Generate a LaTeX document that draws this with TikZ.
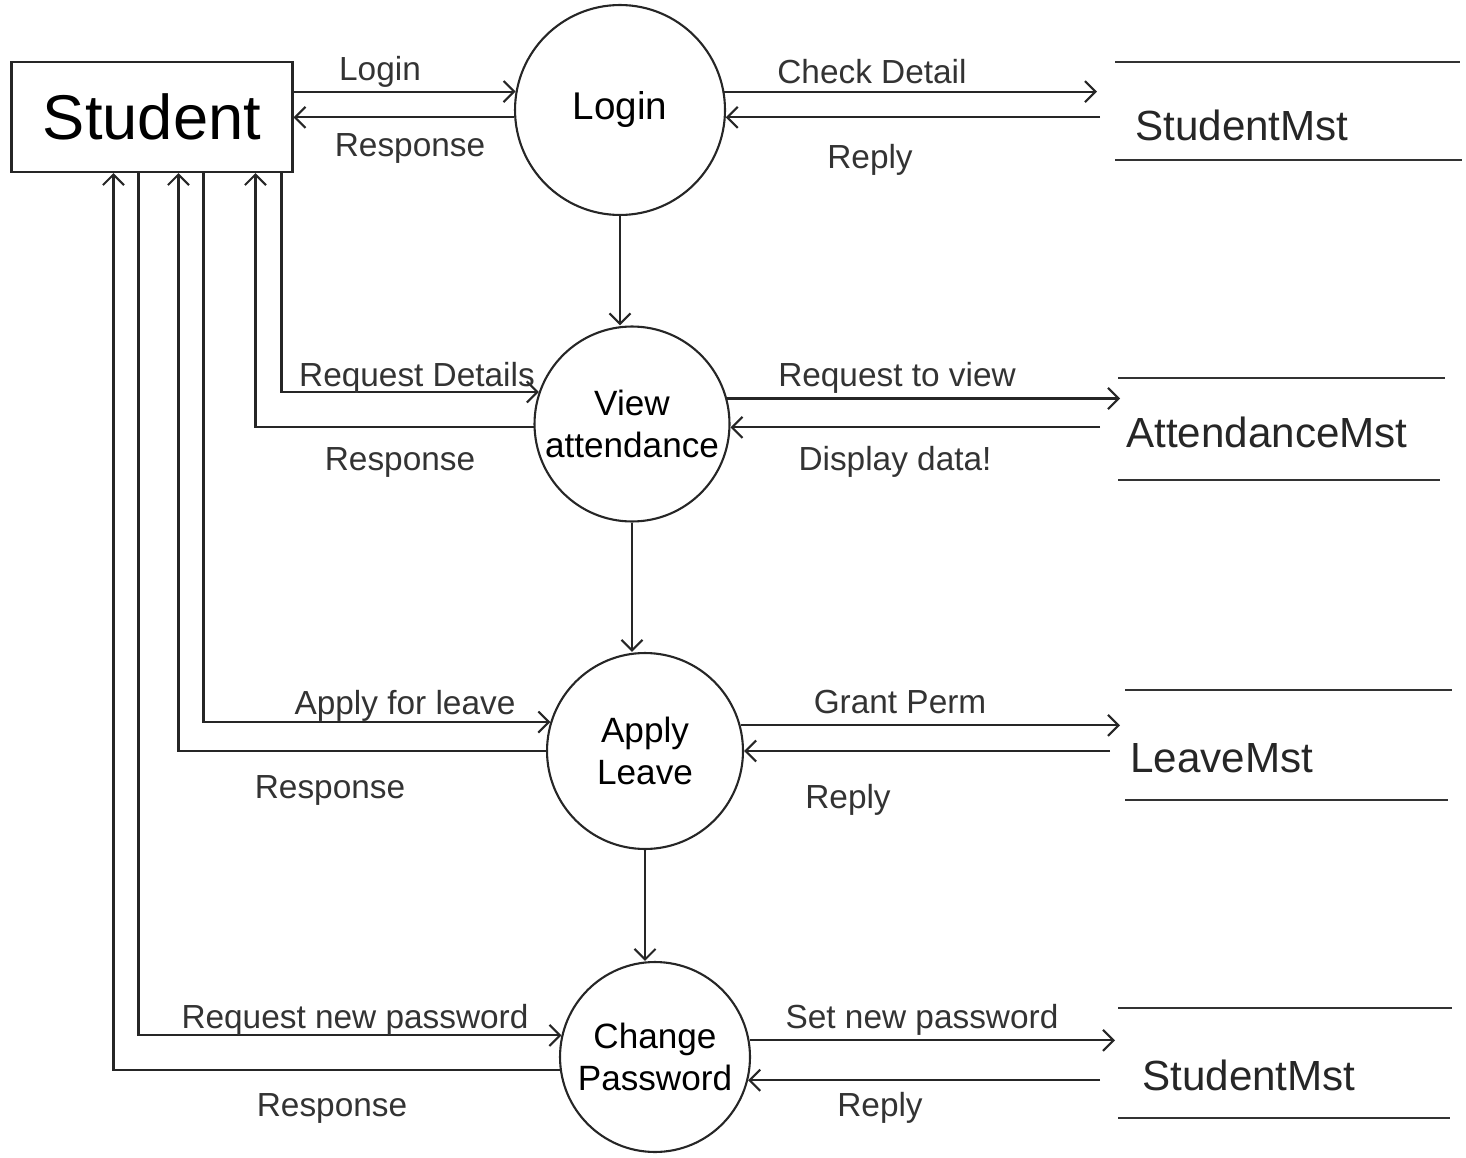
\documentclass[tikz,border=0pt]{standalone}
\usepackage{fontspec}
\setmainfont{Liberation Sans}
\usetikzlibrary{arrows.meta,calc}
\begin{document}
\begin{tikzpicture}[x=0.02cm,y=-0.02cm,
  ink/.style={draw=black!85, line width=1.2pt},
  flow/.style={ink, -{Straight Barb[length=6pt,width=12pt]}},
  proc/.style={ink, circle, minimum size=#1, inner sep=0pt, align=center,
               font=\fontsize{20}{24}\selectfont},
  lbl/.style={font=\fontsize{19}{22}\selectfont, text=black!80, inner sep=1pt},
  storetxt/.style={font=\fontsize{24}{28}\selectfont, text=black!85, anchor=west, inner sep=0pt},
  storeline/.style={draw=black!80, line width=1.4pt},
]
\useasboundingbox (0,0) rectangle (1466,1158);

% external entity
\node[ink, minimum width=5.62cm, minimum height=2.2cm,
      font=\fontsize{36}{40}\selectfont] (student) at (152,117) {Student};

% processes
\node[proc=4.2cm, font=\fontsize{22}{26}\selectfont] (login) at (620,110) {Login};
\node[proc=3.9cm] (va) at (632,424) {View\\attendance};
\node[proc=3.92cm] (al) at (645,751) {Apply\\Leave};
\node[proc=3.8cm] (cp) at (655,1057) {Change\\Password};

% data stores
\draw[storeline] (1115,62) -- (1460,62);
\draw[storeline] (1115,160) -- (1462,160);
\node[storetxt] (sm1) at (1135,125) {StudentMst};
\draw[storeline] (1118,378) -- (1445,378);
\draw[storeline] (1118,480) -- (1440,480);
\node[storetxt] (am) at (1126,432) {AttendanceMst};
\draw[storeline] (1125,690) -- (1452,690);
\draw[storeline] (1125,800) -- (1448,800);
\node[storetxt] (lm) at (1130,758) {LeaveMst};
\draw[storeline] (1118,1008) -- (1452,1008);
\draw[storeline] (1118,1118) -- (1450,1118);
\node[storetxt] (sm2) at (1142,1075) {StudentMst};

% free ends of the flows at the stores
\coordinate (sm1in) at (1097,92);
\coordinate (sm1out) at (1100,117);
\coordinate (amin) at (1120,398);
\coordinate (amout) at (1100,428);
\coordinate (lmin) at (1120,725);
\coordinate (lmout) at (1110,752);
\coordinate (sm2in) at (1115,1040);
\coordinate (sm2out) at (1100,1080);

% student <-> login
\draw[flow] (student.east |- login.170) -- (login.170);
\draw[flow] (login.184) -- (login.184 -| student.east);
\node[lbl] (fLogin) at (380,72) {Login};
\node[lbl] (fResp1) at (410,148) {Response};

% login <-> StudentMst
\draw[flow] (login.10) -- (login.10 -| sm1in);
\draw[flow] (sm1out |- login.-4) -- (login.-4);
\node[lbl] (fCheck) at (872,72) {Check Detail};
\node[lbl] (fReply1) at (870,160) {Reply};

% process chain (straight down from each process)
\draw[flow] (login.south) -- (login.south |- va.north);
\draw[flow] (va.south) -- (va.south |- al.north);
\draw[flow] (al.south) -- (al.south |- cp.north);

% student <-> view attendance
\draw[flow] ($(student.south west)+(271,0)$) |- (va.161);
\draw[flow] (va.182) -| ($(student.south west)+(245,0)$);
\node[lbl] (fReqDet) at (417,378) {Request Details};
\node[lbl] (fResp2) at (400,462) {Response};

% view attendance <-> AttendanceMst
\draw[flow] (va.15) -- (va.15 -| amin);
\draw[flow] (amout |- va.-2) -- (va.-2);
\node[lbl] (fReqView) at (897,378) {Request to view};
\node[lbl] (fDisp) at (895,462) {Display data!};

% student <-> apply leave
\draw[flow] ($(student.south west)+(193,0)$) |- (al.163);
\draw[flow] (al.180) -| ($(student.south west)+(168,0)$);
\node[lbl] (fApply) at (405,706) {Apply for leave};
\node[lbl] (fResp3) at (330,790) {Response};

% apply leave <-> LeaveMst
\draw[flow] (al.15) -- (al.15 -| lmin);
\draw[flow] (lmout |- al.0) -- (al.0);
\node[lbl] (fGrant) at (900,702) {Grant Perm};
\node[lbl] (fReply2) at (848,800) {Reply};

% student <-> change password
\draw[flow] ($(student.south west)+(128,0)$) |- (cp.167);
\draw[flow] (cp.188) -| ($(student.south west)+(103,0)$);
\node[lbl] (fReqPw) at (355,1020) {Request new password};
\node[lbl] (fResp4) at (332,1108) {Response};

% change password <-> StudentMst
\draw[flow] (cp.10) -- (cp.10 -| sm2in);
\draw[flow] (sm2out |- cp.-14) -- (cp.-14);
\node[lbl] (fSetPw) at (922,1020) {Set new password};
\node[lbl] (fReply3) at (880,1108) {Reply};
\end{tikzpicture}
\end{document}
